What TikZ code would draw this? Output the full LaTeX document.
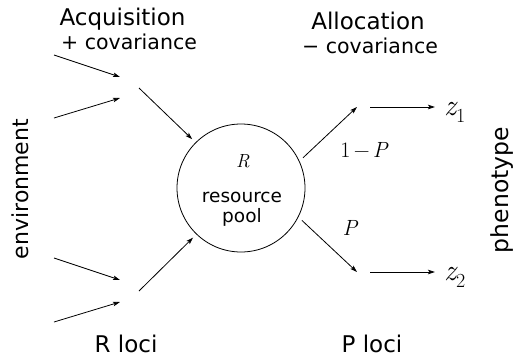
\documentclass[tikz,border=0pt]{standalone}
\usepackage[no-math]{fontspec}
\setmainfont{DejaVu Sans}
\newfontfamily\lmr{Latin Modern Roman}
\usetikzlibrary{arrows.meta}
\newcommand{\mathsub}[2]{{\lmr\itshape #1}\raisebox{-7pt}{\lmr\fontsize{20}{22}\selectfont #2}}
\tikzset{
  arr/.style={-{Stealth[length=7pt,width=4.5pt,inset=1.5pt]}, line width=0.8pt},
  bigtxt/.style={font=\fontsize{23}{26}\selectfont, inner sep=0pt, anchor=base},
  smalltxt/.style={font=\fontsize{20.5}{24}\selectfont, inner sep=0pt, anchor=base},
  mathtxt/.style={font=\fontsize{22}{26}\selectfont\lmr, inner sep=0pt, anchor=base},
  pooltxt/.style={font=\fontsize{18.5}{22}\selectfont, inner sep=0pt, anchor=base},
  ztxt/.style={font=\fontsize{30}{34}\selectfont, inner sep=0pt, anchor=base west},
}
\begin{document}
\begin{tikzpicture}[x=1pt,y=-1pt]
\useasboundingbox (0,0) rectangle (520,359);
% resource pool
\node[draw, circle, line width=0.8pt, minimum size=128pt, outer sep=5pt] (pool) at (241,188) {};
\node[mathtxt, font=\fontsize{19}{22}\selectfont\lmr] (R) at (243,167) {\itshape R};
\node[pooltxt] (res) at (242,202) {resource};
\node[pooltxt] (pl) at (242,222) {pool};
% acquisition side coordinates
\coordinate (e1) at (54,55);
\coordinate (e2) at (54,118);
\coordinate (e3) at (54,258);
\coordinate (e4) at (54,322);
\coordinate (r1a) at (120,77);
\coordinate (r1b) at (120,98);
\coordinate (r1o) at (139,88);
\coordinate (r2a) at (120,280);
\coordinate (r2b) at (120,302);
\coordinate (r2o) at (139,291);
\draw[arr] (e1) -- (r1a);
\draw[arr] (e2) -- (r1b);
\draw[arr] (r1o) -- (pool.135);
\draw[arr] (e3) -- (r2a);
\draw[arr] (e4) -- (r2b);
\draw[arr] (r2o) -- (pool.226);
% allocation side
\coordinate (p1i) at (357,107);
\coordinate (p1o) at (370,107);
\coordinate (p2i) at (357,272);
\coordinate (p2o) at (370,272);
\coordinate (z1in) at (435,107);
\coordinate (z2in) at (435,272);
\node[ztxt] (z1) at (444,115) {\mathsub{z}{1}};
\node[ztxt] (z2) at (444,280) {\mathsub{z}{2}};
\draw[arr] (pool.26) -- (p1i);
\draw[arr] (pool.-28) -- (p2i);
\draw[arr] (p1o) -- (z1in);
\draw[arr] (p2o) -- (z2in);
\node[mathtxt] (oneminusP) at (364,157) {1\hspace{0.15em}−\hspace{0.15em}{\itshape P}};
\node[mathtxt] (Plab) at (350,235) {\itshape P};
% labels
\node[bigtxt] (acq) at (122.5,25) {Acquisition};
\node[smalltxt] (pcov) at (129,49) {+ covariance};
\node[bigtxt] (alloc) at (368,29) {Allocation};
\node[smalltxt] (mcov) at (370,53) {\textminus\ covariance};
\node[bigtxt] (rloci) at (126,352) {R loci};
\node[bigtxt] (ploci) at (372,352) {P loci};
\node[bigtxt, font=\fontsize{22}{26}\selectfont, rotate=90] (env) at (28,189) {environment};
\node[bigtxt, font=\fontsize{23.5}{26}\selectfont, rotate=90] (phen) at (508,190) {phenotype};
\end{tikzpicture}
\end{document}
